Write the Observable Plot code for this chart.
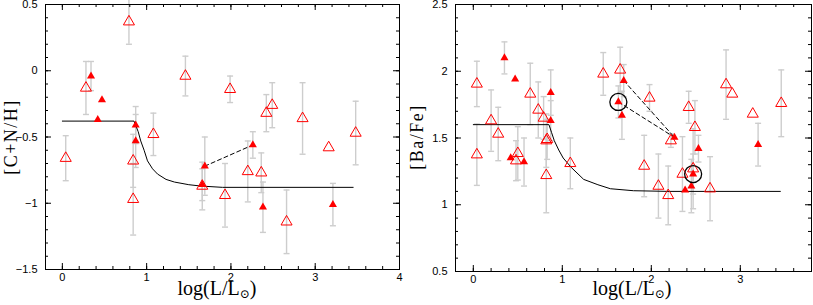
<!DOCTYPE html>
<html><head><meta charset="utf-8">
<script src="https://cdn.jsdelivr.net/npm/d3@7"></script>
<script src="https://cdn.jsdelivr.net/npm/@observablehq/plot@0.6"></script>
<style>
body{margin:0;background:#fff;width:813px;height:305px;position:relative;overflow:hidden}
.panel{position:absolute;top:0}
.xlab{position:absolute;top:277px;font-family:"Liberation Serif","DejaVu Serif",serif;font-size:20px;line-height:22px;color:#000;white-space:nowrap;transform:translateX(-50%)}
.xlab sub{font-size:12px;vertical-align:-3px;}
.ylab{position:absolute;font-family:"Liberation Serif","DejaVu Serif",serif;font-size:18px;color:#000;white-space:nowrap;transform:translate(-50%,-50%) rotate(-90deg);letter-spacing:1.5px}
</style></head><body>
<div id="left" class="panel" style="left:0"></div>
<div id="right" class="panel" style="left:410px"></div>
<div class="xlab" style="left:217px">log(L/L<sub>⊙</sub>)</div>
<div class="xlab" style="left:632px">log(L/L<sub>⊙</sub>)</div>
<div class="ylab" style="left:11px;top:137px">[C+N/H]</div>
<div class="ylab" style="left:417px;top:137px">[Ba/Fe]</div>
<script>
// ---------- Left panel: [C+N/H] ----------
const leftOpenX   = [0.04, 0.28, 0.79, 0.84, 0.84, 1.08, 1.46, 1.99, 2.42, 2.49, 2.85, 3.16, 3.48, 2.20, 2.36, 1.66, 1.93, 2.66];
const leftOpenY   = [-0.66, -0.13, 0.37, -0.68, -0.97, -0.48, -0.04, -0.14, -0.32, -0.26, -0.36, -0.58, -0.47, -0.76, -0.77, -0.87, -0.94, -1.14];
const leftOpenErr = [0.17, 0.20, 0.17, 0.20, 0.27, 0.16, 0.15, 0.10, 0.14, 0.17, 0.27, 0, 0.24, 0.23, 0.15, 0.18, 0.24, 0.24];
const leftFillX   = [0.34, 0.47, 0.42, 0.87, 0.87, 1.69, 2.26, 1.66, 2.38, 3.21];
const leftFillY   = [-0.04, -0.22, -0.37, -0.41, -0.53, -0.72, -0.56, -0.86, -1.03, -1.01];
const leftFillErr = [0.11, 0, 0, 0.14, 0.20, 0.22, 0.10, 0.12, 0.19, 0.16];
const leftCurveX  = [0, 0.85, 0.90, 0.93, 0.97, 1.01, 1.07, 1.13, 1.23, 1.33, 1.50, 1.64, 1.90, 3.45];
const leftCurveY  = [-0.38, -0.38, -0.46, -0.53, -0.60, -0.68, -0.74, -0.78, -0.82, -0.84, -0.86, -0.87, -0.88, -0.88];
const leftDashX   = [1.69, 2.26];
const leftDashY   = [-0.72, -0.56];
const leftXTicks  = [0, 1, 2, 3, 4];
const leftYTicks  = [-1.5, -1, -0.5, 0, 0.5];

// ---------- Right panel: [Ba/Fe] ----------
const rightOpenX   = [0.04, 0.20, 0.28, 0.64, 0.73, 0.79, 0.82, 0.83, 0.04, 0.50, 0.48, 0.82, 1.09, 1.46, 1.65, 1.98, 2.42, 2.49, 2.22, 2.84, 2.91, 3.14, 3.46, 1.92, 2.08, 2.19, 2.35, 2.47, 2.66];
const rightOpenY   = [1.905, 1.63, 1.53, 1.83, 1.71, 1.65, 1.48, 1.49, 1.375, 1.385, 1.33, 1.22, 1.31, 1.98, 2.01, 1.80, 1.73, 1.58, 1.48, 1.90, 1.83, 1.68, 1.76, 1.29, 1.14, 1.07, 1.23, 1.27, 1.12];
const rightOpenErr = [0.17, 0.23, 0.20, 0.23, 0.21, 0.16, 0.20, 0.15, 0.23, 0.20, 0.15, 0.28, 0.19, 0.16, 0.17, 0.10, 0.12, 0.20, 0.05, 0.26, 0, 0, 0.25, 0.23, 0.24, 0.22, 0.28, 0.30, 0.24];
const rightFillX   = [0.35, 0.47, 0.87, 0.87, 0.42, 0.57, 1.69, 1.63, 1.67, 2.26, 2.53, 3.20, 2.47, 2.38, 2.45];
const rightFillY   = [2.10, 1.94, 1.84, 1.63, 1.35, 1.32, 1.93, 1.77, 1.67, 1.505, 1.42, 1.45, 1.23, 1.11, 1.14];
const rightFillErr = [0.12, 0, 0.17, 0.15, 0, 0.18, 0.12, 0.12, 0.18, 0, 0.10, 0.16, 0.15, 0, 0.20];
const rightCurveX  = [0, 0.85, 0.88, 0.91, 0.96, 1.01, 1.10, 1.24, 1.40, 1.54, 1.80, 2.20, 3.45];
const rightCurveY  = [1.60, 1.60, 1.54, 1.48, 1.41, 1.35, 1.28, 1.19, 1.15, 1.12, 1.105, 1.10, 1.10];
const rightDash1X  = [1.69, 2.26];
const rightDash1Y  = [1.93, 1.505];
const rightDash2X  = [1.63, 2.26];
const rightDash2Y  = [1.77, 1.505];
const rightCircleX = [1.63, 2.47];
const rightCircleY = [1.77, 1.23];
const rightXTicks  = [0, 1, 2, 3];
const rightYTicks  = [0.5, 1, 1.5, 2, 2.5];

const zip = (xs, ys, es) => xs.map((x, i) => ({x, y: ys[i], e: es ? es[i] : 0}));
const minor = (lo, hi, step) => d3.range(Math.round(lo / step), Math.round(hi / step) + 1).map(k => +(k * step).toFixed(3));
const cap = {draw(ctx) { ctx.moveTo(-3, 0); ctx.lineTo(3, 0); }};
const fmt = d => (d < 0 ? "\u2212" : "") + String(Math.abs(d));
const ERR = "#cdcdcd";
const RED = "#ff0000";

function panel({width, margins, xDomain, yDomain, xTicks, yTicks, xMinor, yMinor, open, filled, curve, dashes, circles}) {
  const [ml, mr, mt, mb] = margins;
  const pw = width - ml - mr, ph = 305 - mt - mb;
  const errs = open.concat(filled).filter(d => d.e > 0);
  const tickFont = {fontFamily: "Liberation Sans, Arial, sans-serif", fontSize: 11};
  const tk = {stroke: "#000", strokeWidth: 1};
  const marks = [
    Plot.ruleX(errs, {x: "x", y1: d => d.y - d.e, y2: d => d.y + d.e, stroke: ERR, strokeWidth: 1.4}),
    Plot.dot(errs, {x: "x", y: d => d.y + d.e, symbol: cap, fill: "none", stroke: ERR, strokeWidth: 1.4}),
    Plot.dot(errs, {x: "x", y: d => d.y - d.e, symbol: cap, fill: "none", stroke: ERR, strokeWidth: 1.4}),
    Plot.line(curve, {x: "x", y: "y", stroke: "#000", strokeWidth: 1}),
    ...dashes.map(ds => Plot.line(ds, {x: "x", y: "y", stroke: "#000", strokeWidth: 1, strokeDasharray: "4,3"})),
    Plot.dot(open, {x: "x", y: "y", symbol: "triangle", r: 4.1, fill: "none", stroke: RED, strokeWidth: 1}),
    Plot.dot(filled, {x: "x", y: "y", symbol: "triangle", r: 3.0, fill: RED, stroke: "none"}),
    Plot.dot(circles, {x: "x", y: "y", r: 8.5, fill: "none", stroke: "#000", strokeWidth: 1.3}),
    // inward ticks on all four sides
    Plot.tickX(xTicks, {x: d => d, insetTop: ph - 6, ...tk}),
    Plot.tickX(xTicks, {x: d => d, insetBottom: ph - 6, ...tk}),
    Plot.tickX(xMinor, {x: d => d, insetTop: ph - 3, ...tk}),
    Plot.tickX(xMinor, {x: d => d, insetBottom: ph - 3, ...tk}),
    Plot.tickY(yTicks, {y: d => d, insetRight: pw - 6, ...tk}),
    Plot.tickY(yTicks, {y: d => d, insetLeft: pw - 6, ...tk}),
    Plot.tickY(yMinor, {y: d => d, insetRight: pw - 3, ...tk}),
    Plot.tickY(yMinor, {y: d => d, insetLeft: pw - 3, ...tk}),
    Plot.frame({stroke: "#000", strokeWidth: 1}),
    Plot.axisX({anchor: "bottom", ticks: xTicks, tickSize: 0, tickPadding: 4, tickFormat: fmt, label: null, ...tickFont}),
    Plot.axisY({anchor: "left", ticks: yTicks, tickSize: 0, tickPadding: 8, tickFormat: fmt, label: null, ...tickFont})
  ];
  return Plot.plot({
    width, height: 305,
    marginLeft: ml, marginRight: mr, marginTop: mt, marginBottom: mb,
    x: {domain: xDomain},
    y: {domain: yDomain},
    style: {background: "transparent", color: "#000", overflow: "visible"},
    marks
  });
}

document.getElementById("left").appendChild(panel({
  width: 410, margins: [45, 11, 4, 36],
  xDomain: [-0.2, 4], yDomain: [-1.5, 0.5],
  xTicks: leftXTicks, yTicks: leftYTicks,
  xMinor: minor(-0.2, 4, 0.2), yMinor: minor(-1.5, 0.5, 0.1),
  open: zip(leftOpenX, leftOpenY, leftOpenErr),
  filled: zip(leftFillX, leftFillY, leftFillErr),
  curve: zip(leftCurveX, leftCurveY),
  dashes: [zip(leftDashX, leftDashY)],
  circles: []
}));

document.getElementById("right").appendChild(panel({
  width: 403, margins: [45, 2, 4, 34],
  xDomain: [-0.2, 3.8], yDomain: [0.5, 2.5],
  xTicks: rightXTicks, yTicks: rightYTicks,
  xMinor: minor(-0.2, 3.8, 0.2), yMinor: minor(0.5, 2.5, 0.1),
  open: zip(rightOpenX, rightOpenY, rightOpenErr),
  filled: zip(rightFillX, rightFillY, rightFillErr),
  curve: zip(rightCurveX, rightCurveY),
  dashes: [zip(rightDash1X, rightDash1Y), zip(rightDash2X, rightDash2Y)],
  circles: zip(rightCircleX, rightCircleY)
}));
</script>
</body></html>
